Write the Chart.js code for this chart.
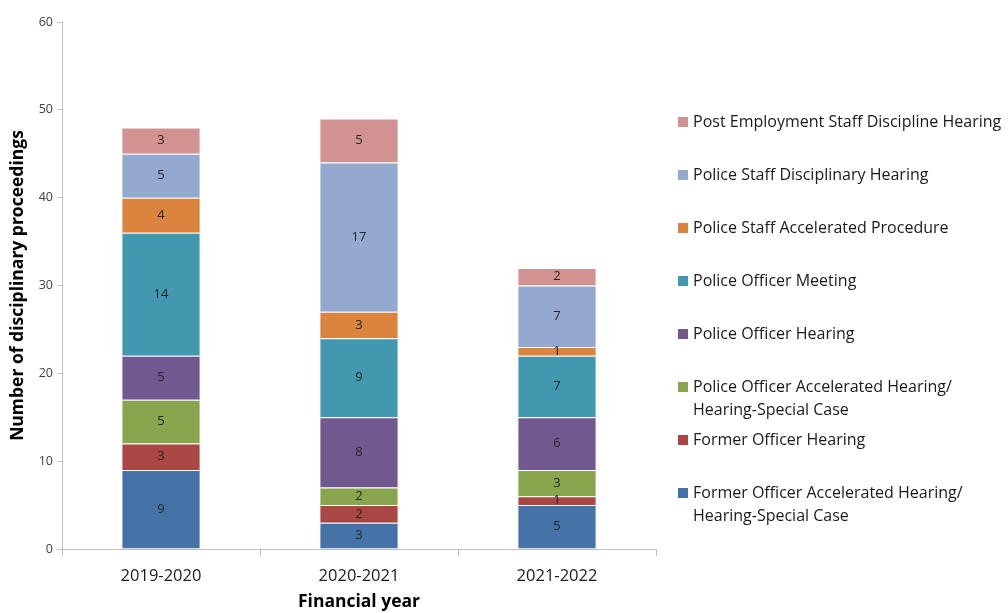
<!DOCTYPE html>
<html>
<head>
<meta charset="utf-8">
<script src="https://cdn.jsdelivr.net/npm/chart.js@4"></script>
<style>
  html, body { margin: 0; padding: 0; background: #fff; }
  #wrap { width: 1008px; height: 613px; position: relative; }
</style>
</head>
<body>
<div id="wrap"><canvas id="chart"></canvas></div>
<script>
// data
const years = ['2019-2020', '2020-2021', '2021-2022'];
const seriesNames = [
  'Former Officer Accelerated Hearing/ Hearing-Special Case',
  'Former Officer Hearing',
  'Police Officer Accelerated Hearing/ Hearing-Special Case',
  'Police Officer Hearing',
  'Police Officer Meeting',
  'Police Staff Accelerated Procedure',
  'Police Staff Disciplinary Hearing',
  'Post Employment Staff Discipline Hearing'
];
const formerAccel   = [9, 3, 5];
const formerHearing = [3, 2, 1];
const officerAccel  = [5, 2, 3];
const officerHearing = [5, 8, 6];
const officerMeeting = [14, 9, 7];
const staffAccel    = [4, 3, 1];
const staffHearing  = [5, 17, 7];
const postEmployment = [3, 5, 2];
const yTicks = [0, 10, 20, 30, 40, 50, 60];

const colors = ['#4572A7', '#AA4643', '#89A54E', '#71588F', '#4198AF', '#DB843D', '#93A9CF', '#D19392'];
const allValues = [formerAccel, formerHearing, officerAccel, officerHearing, officerMeeting, staffAccel, staffHearing, postEmployment];

const FONT = "'Open Sans', sans-serif";

var datasets = [];
for (let i = 0; i < seriesNames.length; i++) {
    datasets.push({
        label: seriesNames[i],
        data: allValues[i],
        backgroundColor: colors[i],
        borderColor: 'rgba(255,255,255,0.5)',
        borderWidth: 1,
        categoryPercentage: 0.4,
        barPercentage: 1.0
    });
}

// numbers in the middle of each segment
const segLabels = {
    id: 'segLabels',
    afterDatasetsDraw(chart) {
        const ctx = chart.ctx;
        ctx.save();
        ctx.font = '13px ' + FONT;
        ctx.fillStyle = '#262626';
        ctx.textAlign = 'center';
        ctx.textBaseline = 'middle';
        chart.data.datasets.forEach((ds, i) => {
            chart.getDatasetMeta(i).data.forEach((bar, j) => {
                const v = ds.data[j];
                if (!v) return;
                ctx.fillText(String(v), bar.x, (bar.y + bar.base) / 2);
            });
        });
        ctx.restore();
    }
};

// legend on the right, Excel style (last series on top)
const sideLegend = {
    id: 'sideLegend',
    afterDraw(chart) {
        const ctx = chart.ctx;
        ctx.save();
        ctx.font = '16px ' + FONT;
        ctx.textBaseline = 'middle';
        ctx.textAlign = 'left';
        let y = 122;
        for (let i = seriesNames.length - 1; i >= 0; i--) {
            const lines = seriesNames[i].split('/ ');
            ctx.fillStyle = colors[i];
            ctx.fillRect(678, y - 5, 10, 10);
            ctx.fillStyle = '#1a1a1a';
            lines.forEach((ln, k) => {
                const txt = (k < lines.length - 1) ? ln + '/' : ln;
                ctx.fillText(txt, 693, y + k * 23.5);
            });
            y += 53;
        }
        ctx.restore();
    }
};

const ctx = document.getElementById('chart').getContext('2d');
new Chart(ctx, {
    type: 'bar',
    data: { labels: years, datasets: datasets },
    plugins: [segLabels, sideLegend],
    options: {
        responsive: true,
        maintainAspectRatio: false,
        animation: false,
        layout: { padding: { top: 22, right: 352, left: 0, bottom: 0 } },
        plugins: {
            legend: { display: false },
            tooltip: { enabled: false }
        },
        scales: {
            x: {
                stacked: true,
                offset: true,
                grid: { display: true, drawOnChartArea: false, offset: true, color: '#bfbfbf', tickLength: 7 },
                border: { color: '#bfbfbf' },
                ticks: { color: '#1a1a1a', font: { family: FONT, size: 16.5 }, padding: 10 },
                title: { display: true, text: 'Financial year', color: '#000', font: { family: FONT, size: 17.5, weight: 'bold' }, padding: { top: 0, bottom: 0 } },
                afterFit(scale) { scale.height = 64; }
            },
            y: {
                stacked: true,
                min: 0,
                max: 60,
                afterBuildTicks(scale) { scale.ticks = yTicks.map(v => ({ value: v })); },
                grid: { display: true, drawOnChartArea: false, color: '#bfbfbf', tickLength: 5 },
                border: { color: '#bfbfbf' },
                ticks: { color: '#404040', font: { family: FONT, size: 12.5 }, padding: 4 },
                title: { display: true, text: 'Number of disciplinary proceedings', color: '#000', font: { family: FONT, size: 17.5, weight: 'bold' }, padding: { top: 8, bottom: 0 } },
                afterFit(scale) { scale.width = 62; }
            }
        }
    }
});
</script>
</body>
</html>
